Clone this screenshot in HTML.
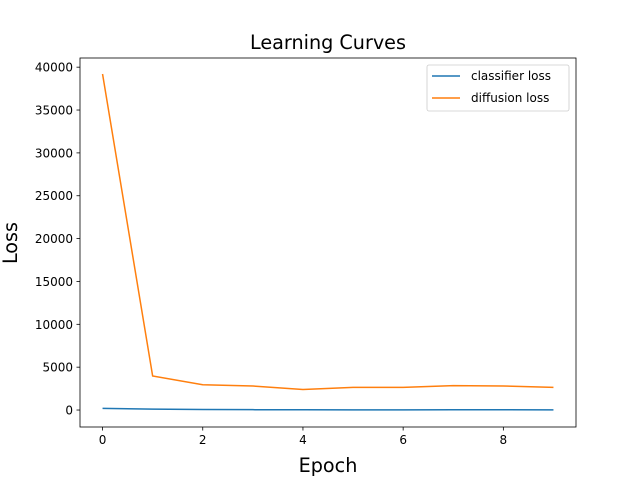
<!DOCTYPE html>
<html><head><meta charset="utf-8"><style>
body{margin:0;background:#fff;}
svg text{font-family:"DejaVu Sans","Liberation Sans",sans-serif;fill:#000;}
</style></head><body>
<svg id="chart" width="640" height="480" xmlns="http://www.w3.org/2000/svg">
<rect width="640" height="480" fill="#fff"/>
<text x="328" y="49" font-size="19.2" text-anchor="middle">Learning Curves</text>
<g id="plot"></g>
<rect x="80" y="58" width="496" height="369" fill="none" stroke="#000" stroke-width="0.8"/>
<text x="328" y="472" font-size="19.2" text-anchor="middle">Epoch</text>
<text transform="translate(17,243) rotate(-90)" font-size="19.2" text-anchor="middle">Loss</text>
<g>
<rect x="427" y="65" width="142" height="46" rx="2" fill="#fff" fill-opacity="0.8" stroke="#ccc" stroke-width="0.8"/>
<line x1="432" y1="76" x2="460" y2="76" stroke="#1f77b4" stroke-width="1.5"/>
<text x="471" y="80" font-size="12">classifier loss</text>
<line x1="432" y1="98" x2="460" y2="98" stroke="#ff7f0e" stroke-width="1.5"/>
<text x="471" y="102" font-size="12">diffusion loss</text>
</g>
</svg>
<script>
const epochs=[0,1,2,3,4,5,6,7,8,9];
const classifierLoss=[200,110,60,40,30,20,20,35,35,25];
const diffusionLoss=[39200,3970,2950,2800,2400,2650,2650,2850,2800,2650];
const xTicks=[0,2,4,6,8];
const yTicks=[0,5000,10000,15000,20000,25000,30000,35000,40000];
const L=80,R=576,T=58,B=427,xmin=-0.45,xmax=9.45,ymin=-1980,ymax=41070;
const sx=v=>L+(v-xmin)/(xmax-xmin)*(R-L);
const sy=v=>B-(v-ymin)/(ymax-ymin)*(B-T);
const g=document.getElementById('plot');const NS='http://www.w3.org/2000/svg';
function mk(t,a){const e=document.createElementNS(NS,t);for(const k in a)e.setAttribute(k,a[k]);g.appendChild(e);return e;}
xTicks.forEach(v=>{const x=sx(v);
const l=mk('line',{x1:x,x2:x,y1:B,y2:B+3.5,stroke:'#000','stroke-width':0.8});


const t=mk('text',{x:x,y:B+17,'font-size':12,'text-anchor':'middle'});t.textContent=v;

});
yTicks.forEach(v=>{const y=sy(v);
const l=mk('line',{x1:L-3.5,x2:L,y1:y,y2:y,stroke:'#000','stroke-width':0.8});


const t=mk('text',{x:L-7,y:y+4.5,'font-size':12,'text-anchor':'end'});t.textContent=v;

});
function line(d,c,n){const p=mk('polyline',{points:d.map((v,i)=>sx(epochs[i])+','+sy(v)).join(' '),fill:'none',stroke:c,'stroke-width':1.5});

}
line(classifierLoss,'#1f77b4','classifier-loss-line');
line(diffusionLoss,'#ff7f0e','diffusion-loss-line');
</script>
</body></html>
